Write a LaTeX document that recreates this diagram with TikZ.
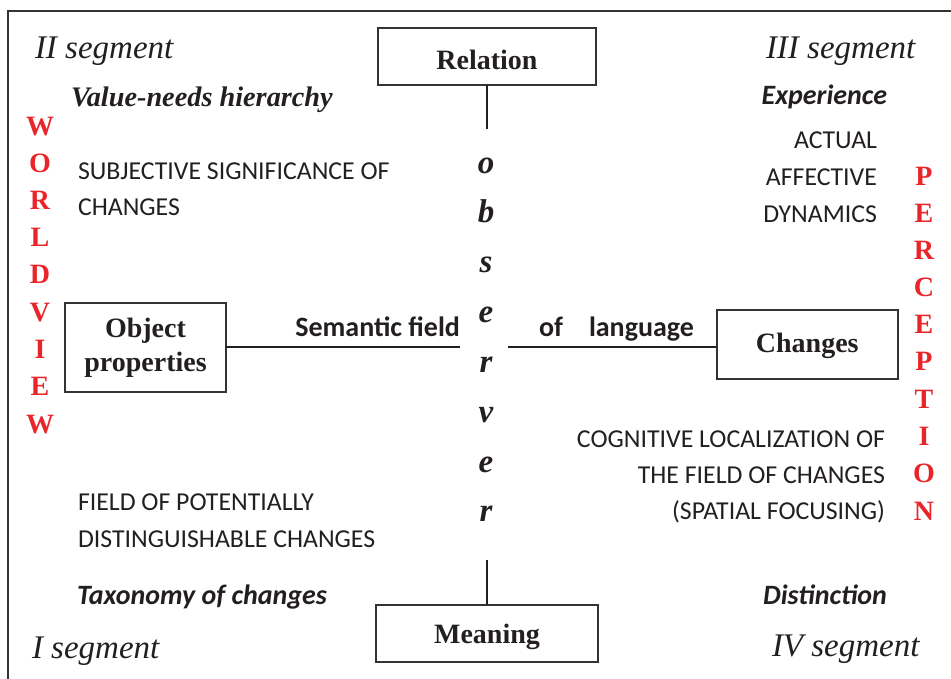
\documentclass[tikz,border=0pt]{standalone}
\usepackage{fontspec}
\setmainfont{Liberation Serif}
\setsansfont{Carlito}
\definecolor{ink}{HTML}{231F20}
\definecolor{frame}{HTML}{333333}
\definecolor{wred}{HTML}{E8262A}
\begin{document}
\begin{tikzpicture}[x=1pt,y=-1pt,
  every node/.style={inner sep=0pt,outer sep=0pt,text=ink},
  boxnode/.style={draw=frame,line width=1.5pt,font=\rmfamily\bfseries\fontsize{28}{34}\selectfont,align=center},
  conn/.style={draw=ink,line width=2pt},
  seglabel/.style={font=\rmfamily\itshape\fontsize{33}{33}\selectfont,anchor=base west},
  headserif/.style={font=\rmfamily\bfseries\itshape\fontsize{28.3}{28}\selectfont,anchor=base west},
  headsans/.style={font=\sffamily\bfseries\itshape\fontsize{28}{28}\selectfont},
  capsW/.style={font=\sffamily\fontsize{25.8}{26}\selectfont,anchor=base west},
  capsE/.style={font=\sffamily\fontsize{25.8}{26}\selectfont,anchor=base east},
  linelabel/.style={font=\sffamily\bfseries\fontsize{28}{28}\selectfont},
  obsletter/.style={font=\rmfamily\bfseries\itshape\fontsize{33}{33}\selectfont,anchor=base},
  redletter/.style={font=\rmfamily\bfseries\fontsize{28}{28}\selectfont,text=wred,anchor=base}
]
\useasboundingbox (0,0) rectangle (951,678);
\clip (0,0) rectangle (951,678);
% outer frame
\draw[frame,line width=1.6pt] (8,700) -- (8,11) -- (970,11);

% boxes
\node[boxnode,minimum width=218pt,minimum height=57pt,text height=24.6pt,text depth=0pt] (rel) at (487,56.7) {Relation};
\node[boxnode,minimum width=222pt,minimum height=57pt,text height=19.4pt,text depth=0pt] (mean) at (487,633.3) {Meaning};
\node[boxnode,minimum width=161pt,minimum height=89pt] (obj) at (145.5,347.5) {Object\\properties};
\node[boxnode,minimum width=181pt,minimum height=69pt,text height=15pt,text depth=0pt] (chg) at (807.3,344.5) {Changes};

% connector ends
\coordinate (topend) at (487,129);
\coordinate (botend) at (487,560);
\coordinate (leftend) at (460,347);
\coordinate (rightend) at (508,347);
\draw[conn] (rel.south) -- (topend);
\draw[conn] (mean.north) -- (botend);
\draw[conn] (obj.east |- leftend) -- (leftend);
\draw[conn] (rightend) -- (rightend -| chg.west);

% line labels
\node[linelabel,anchor=base east] (sem) at (460,336) {Semantic field};
\node[linelabel,anchor=base west] (of) at (539,336) {of};
\node[linelabel,anchor=base west] (lang) at (589,336) {language};

% observer
\foreach \ch/\yy [count=\i] in {o/173,b/222,s/272,e/322,r/372,v/422,e/472,r/521}
  \node[obsletter] (obs\i) at (486,\yy) {\ch};

% WORLDVIEW
\foreach \ch/\yy [count=\i] in {W/135,O/172,R/209,L/246,D/283,V/321,I/358,E/395,W/433}
  \node[redletter] (wv\i) at (40,\yy) {\ch};
% PERCEPTION
\foreach \ch/\yy [count=\i] in {P/185,E/222,R/259,C/296,E/333,P/370,T/408,I/445,O/482,N/520}
  \node[redletter] (pc\i) at (924,\yy) {\ch};

% segment labels
\node[seglabel] (s2) at (35,58) {II segment};
\node[seglabel] (s3) at (766,58) {III segment};
\node[seglabel] (s1) at (32,658) {I segment};
\node[seglabel] (s4) at (772,656) {IV segment};

% headings
\node[headserif] (vnh) at (71,106) {Value-needs hierarchy};
\node[headsans,anchor=base east] (exp) at (887,104) {Experience};
\node[headsans,anchor=base west] (tax) at (77,604) {Taxonomy of changes};
\node[headsans,anchor=base east] (dist) at (887,604) {Distinction};

% caps texts
\node[capsW] (t1) at (78,179) {SUBJECTIVE SIGNIFICANCE OF};
\node[capsW] (t2) at (78,215) {CHANGES};
\node[capsE] (t3) at (877,148) {ACTUAL};
\node[capsE] (t4) at (877,185) {AFFECTIVE};
\node[capsE] (t5) at (877,222) {DYNAMICS};
\node[capsE] (t6) at (885,447) {COGNITIVE LOCALIZATION OF};
\node[capsE] (t7) at (885,483) {THE FIELD OF CHANGES};
\node[capsE] (t8) at (885,519) {(SPATIAL FOCUSING)};
\node[capsW] (t9) at (78,510) {FIELD OF POTENTIALLY};
\node[capsW] (t10) at (78,547) {DISTINGUISHABLE CHANGES};
\end{tikzpicture}
\end{document}
